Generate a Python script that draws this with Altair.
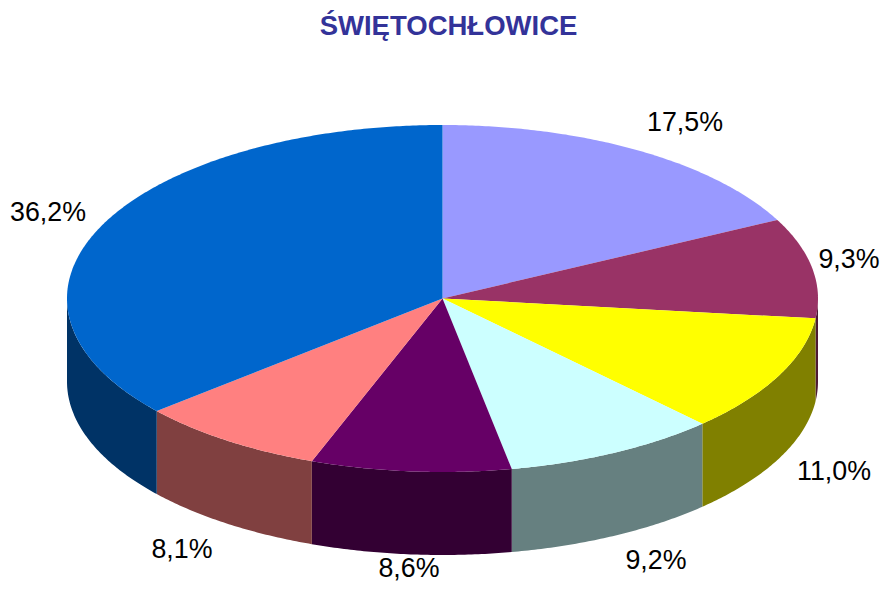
import numpy as np
import altair as alt

TITLE = "ŚWIĘTOCHŁOWICE"
labels = ["17,5%", "9,3%", "11,0%", "9,2%", "8,6%", "8,1%", "36,2%"]
shares = [17.5, 9.3, 11.0, 9.2, 8.6, 8.1, 36.2]
top_colors = ["#9999FF", "#993366", "#FFFF00", "#CCFFFF", "#660066", "#FF8080", "#0066CC"]
side_colors = ["#4D4D80", "#4D1A33", "#808000", "#668080", "#330033", "#804040", "#003366"]

# layout (page pixels minus the 8px margin)
W, H = 873, 576
TITLE_H = 40
CX, CY, RX, RY, DEPTH = 434.5, 290.5 - TITLE_H, 375.5, 173.5, 83
label_x = [677, 841, 826, 648, 401, 174, 40]
label_y = [114.5, 252, 464, 553, 561, 542, 204.5]
label_y = [v - TITLE_H for v in label_y]


def arc(t0, t1, dy=0.0):
    ts = np.radians(np.linspace(t0, t1, max(int(abs(t1 - t0) * 2), 2)))
    return [[float(CX + RX * np.sin(t)), float(CY - RY * np.cos(t) + dy)] for t in ts]


def feature(ring, color):
    ring = ring + [ring[0]]
    return {"type": "Feature", "properties": {}, "fill": color,
            "geometry": {"type": "Polygon", "coordinates": [ring]}}


total = sum(shares)
edges = np.concatenate([[0], np.cumsum(shares)]) / total * 360

sides, tops = [], []
for i, (a, b) in enumerate(zip(edges[:-1], edges[1:])):
    lo, hi = max(a, 90), min(b, 270)
    if lo < hi:
        sides.append(feature(arc(lo, hi) + arc(hi, lo, DEPTH), side_colors[i]))
for i, (a, b) in enumerate(zip(edges[:-1], edges[1:])):
    tops.append(feature([[CX, CY]] + arc(a, b), top_colors[i]))

projection = alt.Projection(type="identity", scale=1, translate=[0, 0])


def shapes(features):
    return alt.Chart(alt.Data(values=features)).mark_geoshape(strokeWidth=0).encode(
        fill=alt.Fill("fill:N", scale=None)
    ).project(**projection.to_dict())


label_data = [{"label": l, "x": x, "y": y} for l, x, y in zip(labels, label_x, label_y)]
text = alt.Chart(alt.Data(values=label_data)).mark_text(
    font="Liberation Sans", fontSize=26.8, color="#000000", align="center", baseline="middle"
).encode(
    longitude="x:Q", latitude="y:Q", text="label:N"
).project(**projection.to_dict())

chart = alt.layer(shapes(sides), shapes(tops), text).properties(
    width=W,
    height=H - TITLE_H,
    padding={"left": 0, "right": 0, "top": TITLE_H, "bottom": 0},
    autosize=alt.AutoSizeParams(type="none"),
    title=alt.TitleParams(
        TITLE, font="Liberation Sans", fontSize=27.5, fontWeight="bold", color="#333399",
        anchor="middle", dx=4, offset=8,
    ),
).configure_view(stroke=None)

chart.save("out.html", embed_options={"renderer": "svg", "actions": False})
